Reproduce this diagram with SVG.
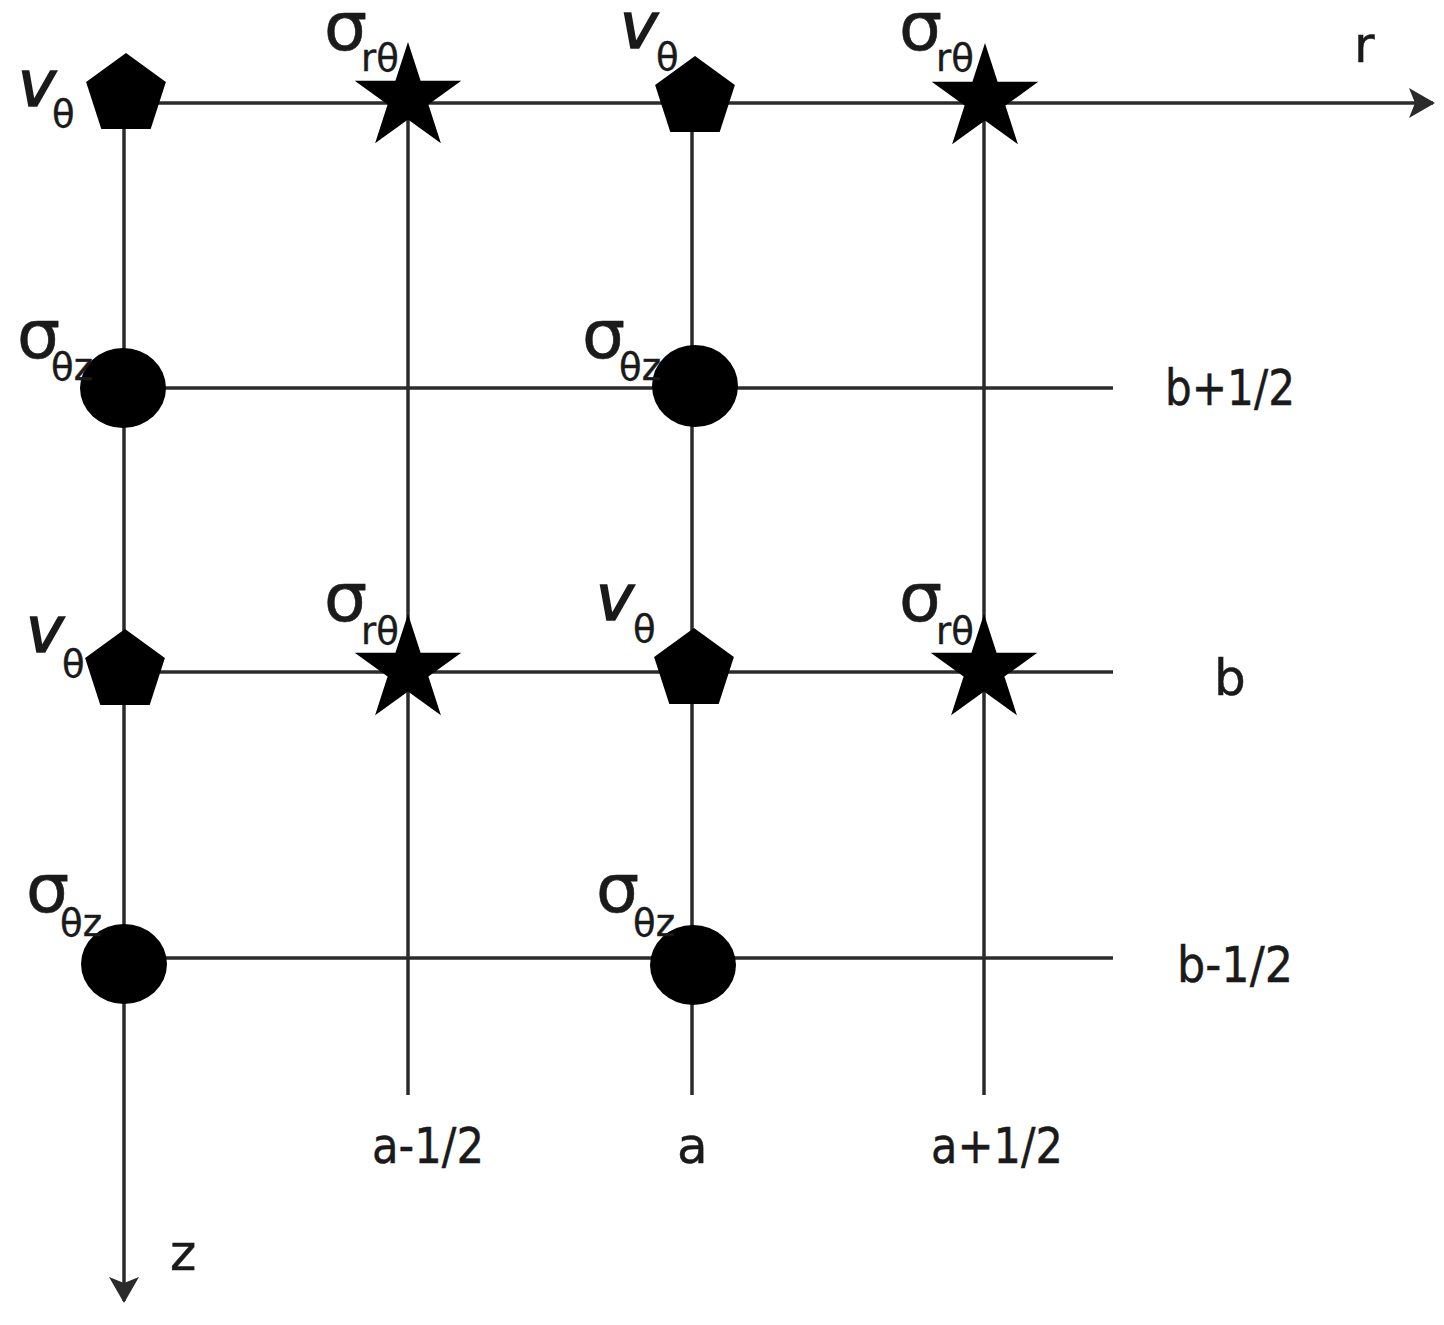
<svg xmlns="http://www.w3.org/2000/svg" width="1444" height="1325" viewBox="0 0 1444 1325">
<style>
.ln{stroke:#2b2b2b;stroke-width:3.5;fill:none}
.big{font-family:"DejaVu Sans",Verdana,sans-serif;font-size:68px;fill:#1a1a1a;stroke:#1a1a1a;stroke-width:0.6}
.v{font-family:"DejaVu Sans",Verdana,sans-serif;font-size:64px;font-style:italic;fill:#1a1a1a;stroke:#1a1a1a;stroke-width:1.6}
.sub{font-family:"DejaVu Sans",Verdana,sans-serif;font-size:37px;fill:#1a1a1a;stroke:#1a1a1a;stroke-width:0.4}
.lab{font-family:"DejaVu Sans",Verdana,sans-serif;font-size:50px;fill:#1a1a1a;stroke:#1a1a1a;stroke-width:0.5}
.sym{fill:#000}
</style>
<defs>
<path id="pent" d="M0,-42 L39.9,-13 L24.7,34 L-24.7,34 L-39.9,-13 Z"/>
<path id="star" d="M0,-56 L12.6,-17.3 L53.3,-17.3 L20.4,6.6 L32.9,45.3 L0,21.4 L-32.9,45.3 L-20.4,6.6 L-53.3,-17.3 L-12.6,-17.3 Z"/>
<marker id="arr" viewBox="0 0 26 30" refX="24" refY="15" markerWidth="26" markerHeight="30" markerUnits="userSpaceOnUse" orient="auto">
<path d="M0,0 L26,15 L0,30 L6,15 Z" fill="#2b2b2b"/>
</marker>
</defs>
<g id="connectors">
<line class="ln" x1="124" y1="103" x2="1433" y2="103" marker-end="url(#arr)"/>
<line class="ln" x1="124" y1="103" x2="124" y2="1301" marker-end="url(#arr)"/>
<line class="ln" x1="124" y1="388" x2="1113" y2="388"/>
<line class="ln" x1="124" y1="672" x2="1113" y2="672"/>
<line class="ln" x1="124" y1="958" x2="1113" y2="958"/>
<line class="ln" x1="408" y1="103" x2="408" y2="1095"/>
<line class="ln" x1="692" y1="103" x2="692" y2="1095"/>
<line class="ln" x1="984" y1="103" x2="984" y2="1095"/>
</g>
<g id="node-v-a0-b0"><use href="#pent" class="sym" x="126" y="95"/><text class="v" x="18" y="106">v</text><text class="sub" x="52" y="127">θ</text></g>
<g id="node-s-a05-b0"><use href="#star" class="sym" x="408" y="98"/><text class="big" x="324" y="50">σ</text><text class="sub" x="361" y="71">rθ</text></g>
<g id="node-v-a1-b0"><use href="#pent" class="sym" x="695" y="98"/><text class="v" x="620" y="48">v</text><text class="sub" x="656" y="70">θ</text></g>
<g id="node-s-a15-b0"><use href="#star" class="sym" x="985" y="99"/><text class="big" x="899" y="50">σ</text><text class="sub" x="936" y="71">rθ</text></g>
<g id="node-t-a0-b05"><ellipse class="sym" cx="123" cy="388" rx="43" ry="40"/><text class="big" x="17" y="358">σ</text><text class="sub" x="51" y="380">θz</text></g>
<g id="node-t-a1-b05"><ellipse class="sym" cx="695" cy="386" rx="43" ry="41"/><text class="big" x="582" y="358">σ</text><text class="sub" x="619" y="380">θz</text></g>
<g id="node-v-a0-b1"><use href="#pent" class="sym" x="125" y="671"/><text class="v" x="26" y="652">v</text><text class="sub" x="62" y="677">θ</text></g>
<g id="node-s-a05-b1"><use href="#star" class="sym" x="408" y="670"/><text class="big" x="324" y="621">σ</text><text class="sub" x="361" y="644">rθ</text></g>
<g id="node-v-a1-b1"><use href="#pent" class="sym" x="694" y="670"/><text class="v" x="596" y="620">v</text><text class="sub" x="633" y="642">θ</text></g>
<g id="node-s-a15-b1"><use href="#star" class="sym" x="984" y="670"/><text class="big" x="899" y="621">σ</text><text class="sub" x="936" y="644">rθ</text></g>
<g id="node-t-a0-b15"><ellipse class="sym" cx="124" cy="964" rx="43" ry="40"/><text class="big" x="26" y="912">σ</text><text class="sub" x="60" y="936">θz</text></g>
<g id="node-t-a1-b15"><ellipse class="sym" cx="693" cy="965" rx="43" ry="40"/><text class="big" x="596" y="912">σ</text><text class="sub" x="633" y="936">θz</text></g>
<g id="labels">
<text class="lab" x="1354" y="62">r</text>
<text class="lab" x="170" y="1270">z</text>
<text class="lab" x="1165" y="405" textLength="130" lengthAdjust="spacingAndGlyphs">b+1/2</text>
<text class="lab" x="1214" y="695">b</text>
<text class="lab" x="1177" y="982" textLength="116" lengthAdjust="spacingAndGlyphs">b-1/2</text>
<text class="lab" x="372" y="1163" textLength="112" lengthAdjust="spacingAndGlyphs">a-1/2</text>
<text class="lab" x="677" y="1163">a</text>
<text class="lab" x="931" y="1163" textLength="132" lengthAdjust="spacingAndGlyphs">a+1/2</text>
</g>
</svg>
